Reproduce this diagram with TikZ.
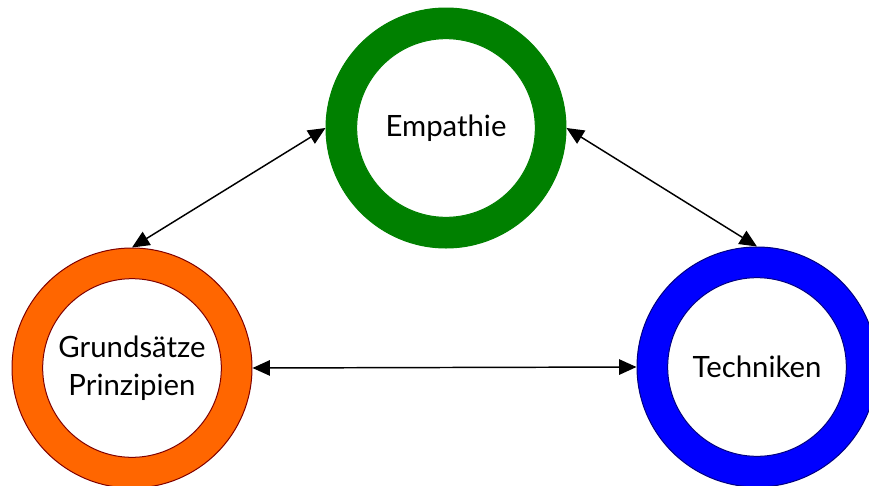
\documentclass[tikz,border=0pt]{standalone}
\usepackage{fontspec}
\setmainfont{Lato}
\usetikzlibrary{positioning, arrows.meta}
\definecolor{ringgreen}{RGB}{0,128,0}
\definecolor{ringorange}{RGB}{255,102,0}
\definecolor{ringblue}{RGB}{0,0,255}
\definecolor{edgered}{RGB}{128,0,0}
\definecolor{edgeblue}{RGB}{0,0,128}

\begin{document}
\begin{tikzpicture}[
    x=0.75pt, y=-0.75pt,
    ring/.style={circle, minimum size=180pt, inner sep=0pt, line width=0.75pt},
    hole/.style={circle, minimum size=134pt, inner sep=0pt, line width=0.75pt,
                 fill=white, align=center, font=\fontsize{22}{28.5}\selectfont},
    link/.style={line width=1.1pt, {Triangle[length=13pt, width=11.5pt]}-{Triangle[length=13pt, width=11.5pt]}}
  ]
  \useasboundingbox (0,0) rectangle (869,486);
  \clip (0,0) rectangle (869,486);

  \node[ring, fill=ringgreen, draw=ringgreen] (emp) at (446,128) {};
  \node[hole, draw=ringgreen] (emp-in) at (emp.center) {Empathie};

  \node[ring, fill=ringorange, draw=edgered] (grund) at (132,368) {};
  \node[hole, draw=edgered] (grund-in) at (grund.center) {Grundsätze\\Prinzipien};

  \node[ring, fill=ringblue, draw=edgeblue] (tech) at (757,367) {};
  \node[hole, draw=edgeblue] (tech-in) at (tech.center) {Techniken};

  \draw[link] (emp.west) -- (grund.north);
  \draw[link] (emp.east) -- (tech.north);
  \draw[link] (grund.east) -- (tech.west);
\end{tikzpicture}
\end{document}
